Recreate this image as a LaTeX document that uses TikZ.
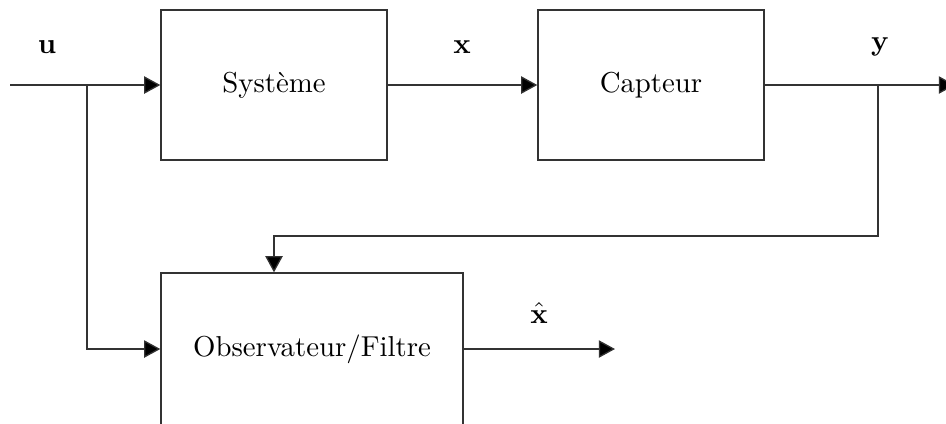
\documentclass[tikz,border=0pt]{standalone}
\usetikzlibrary{arrows.meta}
\begin{document}
\begin{tikzpicture}[x=0.3472pt,y=-0.3472pt,
  blockbox/.style={draw=black!80,line width=0.45pt,rectangle,inner sep=0pt,font=\normalsize},
  wire/.style={draw=black!80,line width=0.45pt},
  arr/.style={wire,-{Triangle[length=5.6pt,width=6pt,fill=black]}},
  sig/.style={font=\normalsize,inner sep=0pt}]
\useasboundingbox (0,0) rectangle (946,423);
\node[blockbox,minimum width=78.5pt,minimum height=52.1pt] (sys) at (274,85) {Système};
\node[blockbox,minimum width=78.5pt,minimum height=52.1pt] (cap) at (651,85) {Capteur};
\node[blockbox,minimum width=104.9pt,minimum height=52.8pt] (obs) at (312,349) {Observateur/Filtre};
\coordinate (in) at (10,85);
\coordinate (ub) at (87,85);
\coordinate (yb) at (878,85);
\coordinate (out) at (955,85);
\coordinate (xo) at (615,349);
\node[sig] (lu) at (47,47) {$\mathbf{u}$};
\node[sig] (lx) at (462,47) {$\mathbf{x}$};
\node[sig] (ly) at (880,47) {$\mathbf{y}$};
\node[sig] (lxh) at (539,313) {$\hat{\mathbf{x}}$};
\draw[arr] (in) -- (sys.west);
\draw[arr] (sys.east) -- (cap.west);
\draw[arr] (cap.east) -- (out);
\draw[arr] (ub) |- (obs.west);
\draw[arr] (yb) -- (878,236) -| (obs.north -| 274,0);
\draw[arr] (obs.east) -- (xo);
\end{tikzpicture}
\end{document}
